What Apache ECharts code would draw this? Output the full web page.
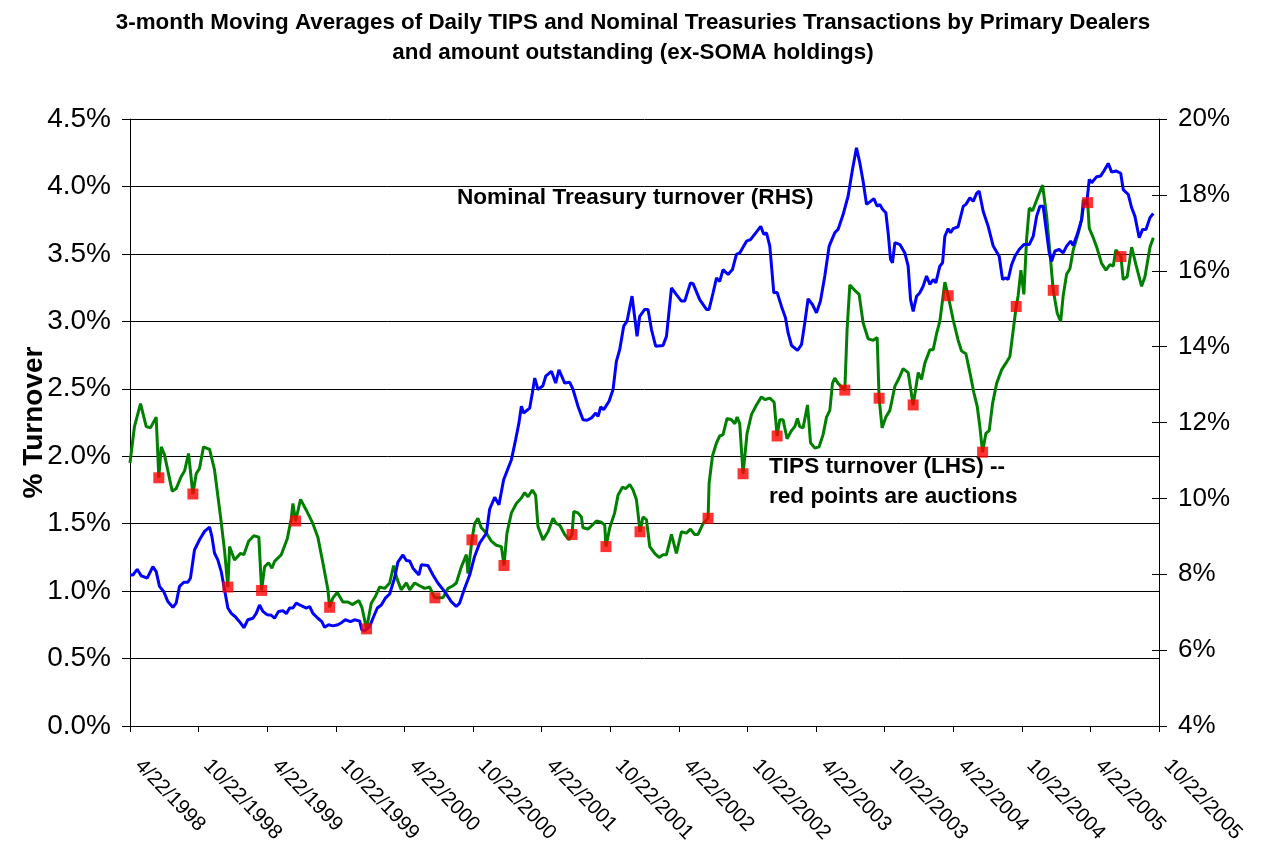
<!DOCTYPE html>
<html>
<head>
<meta charset="utf-8">
<title>TIPS and Nominal Treasuries turnover</title>
<script src="https://cdn.jsdelivr.net/npm/echarts@6.0.0/dist/echarts.min.js"></script>
<style>
  html, body { margin: 0; padding: 0; background: #fff; }
  #chart { width: 1266px; height: 841px; }
</style>
</head>
<body>
<div id="chart"></div>
<script>
// x = months after 4/22/1998, TIPS turnover in % (left axis)
const tipsSeries = [
  [0,1.95],[0.39,2.22],[0.92,2.39],[1.42,2.22],[1.79,2.21],[2.29,2.29],[2.52,1.84],[2.73,2.07],[3.02,2.01],[3.69,1.74],
  [4.04,1.76],[4.48,1.85],[4.77,1.89],[5.12,2.02],[5.5,1.72],[5.79,1.87],[6.08,1.91],[6.43,2.07],[6.96,2.05],[7.39,1.90],
  [7.92,1.55],[8.27,1.30],[8.56,1.03],[8.71,1.33],[9.14,1.23],[9.67,1.28],[9.96,1.27],[10.37,1.37],[10.83,1.41],[11.27,1.40],
  [11.51,1.005],[11.77,1.18],[12.12,1.21],[12.41,1.17],[12.64,1.22],[13.23,1.27],[13.76,1.39],[14.11,1.54],[14.25,1.65],[14.48,1.52],
  [14.92,1.68],[15.42,1.60],[16.0,1.50],[16.43,1.40],[16.87,1.21],[17.31,1.01],[17.46,0.88],[17.75,0.95],[18.13,0.99],[18.62,0.92],
  [19.06,0.92],[19.44,0.90],[20.02,0.93],[20.28,0.88],[20.69,0.72],[21.1,0.91],[21.46,0.96],[21.83,1.03],[22.27,1.02],[22.71,1.06],
  [23.06,1.19],[23.32,1.10],[23.72,1.01],[24.17,1.06],[24.46,1.01],[24.9,1.06],[25.33,1.04],[25.77,1.02],[26.21,1.03],[26.67,0.95],
  [27.37,0.95],[27.81,1.02],[28.25,1.04],[28.54,1.06],[28.98,1.18],[29.42,1.27],[29.56,1.13],[29.91,1.38],[30.14,1.50],[30.43,1.54],
  [30.73,1.47],[31.17,1.43],[31.61,1.37],[32.04,1.34],[32.48,1.33],[32.71,1.19],[32.97,1.43],[33.36,1.58],[33.79,1.65],[34.23,1.69],
  [34.52,1.73],[34.81,1.70],[35.19,1.75],[35.48,1.71],[35.68,1.48],[36.12,1.38],[36.56,1.44],[37.0,1.54],[37.29,1.50],[37.58,1.49],
  [38.02,1.42],[38.4,1.38],[38.66,1.42],[38.81,1.59],[39.18,1.58],[39.48,1.55],[39.62,1.47],[40.06,1.46],[40.44,1.49],[40.79,1.52],
  [41.23,1.51],[41.52,1.49],[41.63,1.33],[41.96,1.47],[42.39,1.58],[42.68,1.71],[43.07,1.77],[43.36,1.76],[43.71,1.79],[44.0,1.75],
  [44.29,1.68],[44.43,1.58],[44.61,1.44],[44.87,1.55],[45.17,1.53],[45.46,1.33],[45.89,1.28],[46.27,1.25],[46.62,1.27],[46.92,1.27],
  [47.36,1.42],[47.79,1.28],[48.23,1.44],[48.67,1.43],[49.02,1.46],[49.39,1.42],[49.68,1.42],[50.12,1.50],[50.56,1.54],[50.65,1.80],
  [50.94,2.00],[51.3,2.10],[51.58,2.15],[51.87,2.16],[52.22,2.28],[52.61,2.27],[52.9,2.24],[53.1,2.29],[53.33,2.24],[53.62,1.87],
  [53.97,2.17],[54.36,2.31],[54.79,2.38],[55.23,2.44],[55.52,2.42],[55.96,2.43],[56.34,2.40],[56.6,2.15],[56.83,2.27],[57.12,2.27],
  [57.47,2.13],[57.86,2.19],[58.15,2.22],[58.38,2.28],[58.58,2.22],[58.87,2.21],[59.26,2.38],[59.52,2.10],[59.9,2.06],[60.27,2.07],
  [60.62,2.16],[60.92,2.29],[61.21,2.34],[61.44,2.54],[61.64,2.58],[61.93,2.54],[62.52,2.49],[62.72,2.94],[62.96,3.27],[63.39,3.23],
  [63.77,3.20],[64.12,2.99],[64.56,2.87],[65.0,2.86],[65.35,2.88],[65.52,2.43],[65.78,2.21],[66.11,2.29],[66.46,2.34],[66.66,2.42],
  [66.9,2.52],[67.27,2.58],[67.62,2.65],[68.06,2.62],[68.5,2.38],[68.94,2.62],[69.23,2.57],[69.52,2.69],[69.96,2.79],[70.25,2.79],
  [70.55,2.91],[70.83,3.00],[71.27,3.29],[71.56,3.19],[72.0,3.01],[72.43,2.86],[72.73,2.78],[73.11,2.76],[73.46,2.62],[73.81,2.47],
  [74.1,2.37],[74.33,2.22],[74.57,2.03],[74.86,2.17],[75.15,2.19],[75.44,2.39],[75.8,2.54],[76.23,2.64],[76.61,2.69],[76.96,2.74],
  [77.51,3.11],[77.68,3.19],[77.92,3.38],[78.18,3.20],[78.42,3.61],[78.65,3.84],[78.94,3.82],[79.3,3.90],[79.82,4.01],[80.17,3.78],
  [80.46,3.51],[80.75,3.23],[81.1,3.06],[81.4,3.00],[81.62,3.19],[81.92,3.35],[82.21,3.39],[82.5,3.53],[82.93,3.65],[83.23,3.75],
  [83.37,3.90],[83.76,3.88],[83.9,3.69],[84.2,3.63],[84.55,3.55],[84.98,3.43],[85.36,3.38],[85.71,3.42],[86.0,3.41],[86.23,3.53],
  [86.67,3.48],[86.87,3.31],[87.22,3.33],[87.61,3.55],[87.98,3.42],[88.48,3.26],[88.77,3.33],[89.21,3.55],[89.5,3.62]
]

// auction dates on the TIPS line (red squares)
const auctionPoints = [
  [2.52,1.84],[5.5,1.72],[8.56,1.03],[11.51,1.005],[14.48,1.52],[17.46,0.88],[20.69,0.72],[26.67,0.95],[29.91,1.38],
  [32.71,1.19],[38.66,1.42],[41.63,1.33],[44.61,1.44],[50.56,1.54],[53.62,1.87],[56.6,2.15],[62.52,2.49],[65.52,2.43],
  [68.5,2.38],[71.56,3.19],[74.57,2.03],[77.51,3.11],[80.75,3.23],[83.76,3.88],[86.67,3.48]
]

// Nominal Treasury turnover in % (right axis)
const nominalSeries = [
  [0,7.98],[0.25,7.98],[0.63,8.13],[0.98,7.96],[1.51,7.90],[2.0,8.20],[2.29,8.07],[2.58,7.68],[2.96,7.54],[3.31,7.28],
  [3.75,7.13],[4.04,7.24],[4.33,7.68],[4.71,7.79],[5.06,7.79],[5.29,7.90],[5.64,8.64],[6.08,8.91],[6.52,9.13],[6.96,9.24],
  [7.16,9.00],[7.39,8.56],[7.68,8.38],[7.98,8.07],[8.27,7.59],[8.56,7.11],[8.86,6.97],[9.21,6.88],[9.58,6.75],[9.96,6.59],
  [10.31,6.80],[10.75,6.84],[11.04,6.97],[11.33,7.19],[11.62,7.02],[12.01,6.93],[12.36,6.92],[12.64,6.84],[12.99,7.02],[13.37,7.04],
  [13.67,6.96],[13.96,7.11],[14.25,7.11],[14.54,7.24],[14.98,7.17],[15.42,7.11],[15.71,7.15],[16.0,6.97],[16.43,6.84],[16.78,6.75],
  [17.02,6.60],[17.37,6.67],[17.75,6.64],[18.18,6.67],[18.53,6.73],[18.83,6.80],[19.29,6.75],[19.64,6.80],[20.08,6.77],[20.28,6.53],
  [20.58,6.52],[20.96,6.62],[21.25,6.84],[21.63,7.11],[21.98,7.19],[22.33,7.37],[22.71,7.48],[22.86,7.52],[23.14,7.90],[23.43,8.32],
  [23.87,8.51],[24.17,8.36],[24.46,8.35],[24.75,8.16],[25.27,7.98],[25.48,8.25],[26.06,8.23],[26.5,7.98],[26.93,7.77],[27.52,7.54],
  [28.1,7.28],[28.54,7.15],[28.83,7.24],[29.27,7.63],[29.71,7.98],[30.14,8.47],[30.58,8.82],[31.17,9.08],[31.46,9.72],[31.9,10.03],
  [32.27,9.83],[32.68,10.49],[33.36,11.02],[33.73,11.55],[34.02,11.99],[34.23,12.43],[34.43,12.25],[34.96,12.38],[35.19,12.78],[35.4,13.17],
  [35.68,12.87],[36.12,12.97],[36.36,13.22],[36.86,13.35],[37.23,13.04],[37.52,13.39],[38.02,13.04],[38.46,13.06],[38.75,12.87],[39.18,12.43],
  [39.62,12.07],[39.97,12.06],[40.36,12.12],[40.73,12.25],[40.94,12.16],[41.17,12.41],[41.43,12.34],[41.9,12.56],[42.25,12.87],[42.54,13.61],
  [42.83,13.92],[43.18,14.54],[43.47,14.67],[43.91,15.33],[44.35,14.27],[44.58,14.80],[45.02,14.98],[45.31,14.98],[45.61,14.45],[45.98,14.01],
  [46.62,14.03],[46.92,14.27],[47.36,15.55],[47.79,15.37],[48.23,15.20],[48.52,15.20],[49.02,15.68],[49.25,15.66],[49.83,15.24],[50.42,14.98],
  [50.65,14.98],[51.0,15.42],[51.3,15.81],[51.58,15.72],[51.87,16.03],[52.31,15.90],[52.69,16.03],[53.04,16.43],[53.33,16.47],[53.92,16.78],
  [54.27,16.82],[54.73,17.0],[55.17,17.17],[55.43,16.96],[55.67,17.0],[55.96,16.65],[56.31,15.42],[56.6,15.43],[56.98,15.06],[57.33,14.76],
  [57.56,14.36],[57.86,14.03],[58.38,13.90],[58.73,14.05],[59.02,14.63],[59.31,15.26],[59.69,15.11],[60.04,14.89],[60.39,15.20],[60.77,15.86],
  [61.15,16.65],[61.64,17.0],[61.93,17.09],[62.37,17.48],[62.81,17.97],[63.19,18.67],[63.54,19.24],[63.83,18.85],[64.12,18.36],[64.42,17.75],
  [64.77,17.83],[65.06,17.90],[65.35,17.70],[65.58,17.75],[65.82,17.62],[66.11,17.53],[66.31,17.0],[66.52,16.30],[66.69,16.21],[66.9,16.74],
  [67.34,16.69],[67.77,16.47],[68.06,16.12],[68.27,15.24],[68.5,14.93],[68.8,15.33],[69.08,15.42],[69.37,15.59],[69.67,15.86],[69.96,15.64],
  [70.25,15.77],[70.48,15.68],[70.83,16.12],[71.07,16.21],[71.27,16.91],[71.56,17.11],[71.77,17.0],[72.0,17.11],[72.43,17.16],[72.88,17.70],
  [73.11,17.75],[73.46,17.92],[73.75,17.83],[74.05,18.04],[74.27,18.10],[74.62,17.57],[75.06,17.17],[75.5,16.65],[76.02,16.38],[76.32,15.77],
  [76.61,15.81],[76.81,15.77],[77.11,16.16],[77.4,16.38],[77.77,16.56],[78.18,16.69],[78.65,16.69],[79.0,16.91],[79.3,17.44],[79.58,17.70],
  [79.87,17.70],[80.17,17.0],[80.4,16.47],[80.61,16.25],[80.9,16.52],[81.27,16.56],[81.62,16.47],[81.92,16.65],[82.27,16.78],[82.5,16.67],
  [82.85,16.96],[83.23,17.35],[83.43,17.79],[83.67,17.75],[83.9,18.41],[84.11,18.32],[84.55,18.48],[84.9,18.50],[85.18,18.63],[85.56,18.83],
  [85.86,18.60],[86.23,18.63],[86.65,18.57],[86.87,18.14],[87.31,18.01],[87.61,17.66],[87.89,17.44],[88.27,16.87],[88.57,17.09],[88.86,17.09],
  [89.21,17.40],[89.5,17.51]
]

// one label every 6 months
const xTickLabels = [
  '4/22/1998', '10/22/1998', '4/22/1999', '10/22/1999', '4/22/2000', '10/22/2000', '4/22/2001', '10/22/2001',
  '4/22/2002', '10/22/2002', '4/22/2003', '10/22/2003', '4/22/2004', '10/22/2004', '4/22/2005', '10/22/2005'
]

const FONT = "'Liberation Sans', Arial, sans-serif"

const chart = echarts.init(document.getElementById('chart'), null, { renderer: 'canvas' })

const option = {
  animation: false,
  backgroundColor: '#fff',
  textStyle: { fontFamily: FONT, color: '#000' },
  title: {
    text: '3-month Moving Averages of Daily TIPS and Nominal Treasuries Transactions by Primary Dealers\nand amount outstanding (ex-SOMA holdings)',
    left: 'center',
    top: 3,
    textStyle: { fontFamily: FONT, fontSize: 22.4, fontWeight: 'bold', color: '#000', lineHeight: 30 }
  },
  grid: { left: 130, right: 107, top: 119, bottom: 115, outerBoundsMode: 'none' },
  xAxis: {
    type: 'value',
    min: 0,
    max: 90,
    interval: 6,
    axisLine: { lineStyle: { color: '#000', width: 1 } },
    axisTick: { length: 6, lineStyle: { color: '#000' } },
    splitLine: { show: false },
    axisLabel: {
      rotate: -46,
      margin: 28,
      padding: [0, 0, 0, 12],
      fontSize: 20.5,
      color: '#000',
      fontFamily: FONT,
      formatter: (v) => xTickLabels[Math.round(v / 6)] || ''
    }
  },
  yAxis: [
    {
      type: 'value',
      position: 'left',
      min: 0,
      max: 4.5,
      interval: 0.5,
      name: '% Turnover',
      nameLocation: 'middle',
      nameGap: 82,
      nameMoveOverlap: false,
      nameTextStyle: { fontFamily: FONT, fontSize: 28, fontWeight: 'bold', color: '#000' },
      axisLine: { show: true, lineStyle: { color: '#000', width: 1 } },
      axisTick: { show: true, length: 8, lineStyle: { color: '#000' } },
      splitLine: { show: true, lineStyle: { color: '#000', width: 1 } },
      axisLabel: {
        margin: 19,
        fontSize: 28,
        color: '#000',
        fontFamily: FONT,
        formatter: (v) => v.toFixed(1) + '%'
      }
    },
    {
      type: 'value',
      position: 'right',
      min: 4,
      max: 20,
      interval: 2,
      axisLine: { show: true, lineStyle: { color: '#000', width: 1 } },
      axisTick: { show: true, length: 8, lineStyle: { color: '#000' } },
      splitLine: { show: false },
      axisLabel: {
        margin: 19,
        fontSize: 26,
        color: '#000',
        fontFamily: FONT,
        formatter: '{value}%'
      }
    },
    {
      // inner half of the right-hand ticks (they cross the axis line)
      type: 'value',
      position: 'right',
      min: 4,
      max: 20,
      interval: 2,
      axisLine: { show: false },
      axisTick: { show: true, inside: true, length: 7, lineStyle: { color: '#000' } },
      axisLabel: { show: false },
      splitLine: { show: false }
    }
  ],
  series: [
    {
      name: 'TIPS turnover (LHS)',
      type: 'line',
      yAxisIndex: 0,
      data: tipsSeries,
      showSymbol: false,
      lineStyle: { color: '#008000', width: 3 },
      itemStyle: { color: '#008000' },
      z: 2
    },
    {
      name: 'Nominal Treasury turnover (RHS)',
      type: 'line',
      yAxisIndex: 1,
      data: nominalSeries,
      showSymbol: false,
      lineStyle: { color: '#0000ff', width: 3 },
      itemStyle: { color: '#0000ff' },
      z: 3
    },
    {
      name: 'Auctions',
      type: 'scatter',
      yAxisIndex: 0,
      data: auctionPoints,
      symbol: 'rect',
      symbolSize: 11,
      itemStyle: { color: '#ff0000' },
      z: 4
    }
  ],
  graphic: [
    {
      type: 'text',
      left: 457,
      top: 186,
      style: { text: 'Nominal Treasury turnover (RHS)', font: 'bold 22.6px ' + FONT, fill: '#000' }
    },
    {
      type: 'text',
      left: 769,
      top: 452,
      style: { text: 'TIPS turnover (LHS) --\nred points are auctions', font: 'bold 22.6px ' + FONT, fill: '#000', lineHeight: 30 }
    }
  ]
}

chart.setOption(option)
</script>
</body>
</html>
